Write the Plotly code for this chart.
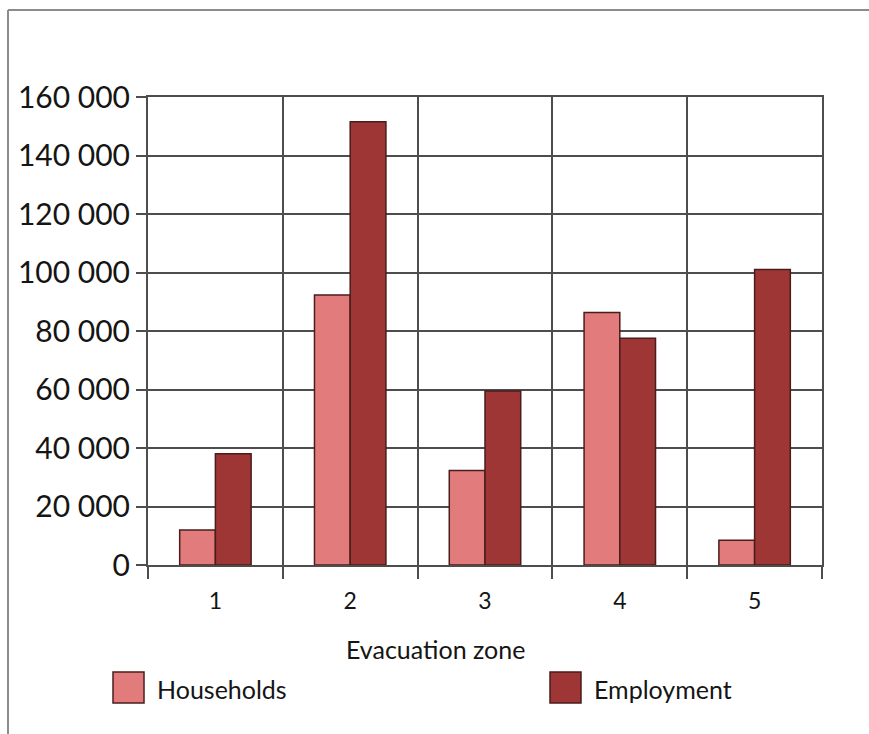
import plotly.graph_objects as go

# Data
zones = ["1", "2", "3", "4", "5"]
households = [12000, 92300, 32300, 86300, 8500]
employment = [38000, 151500, 59500, 77500, 101000]
series_names = ["Households", "Employment"]
y_ticks = [0, 20000, 40000, 60000, 80000, 100000, 120000, 140000, 160000]

# Styling
W, H = 869, 734
ML, MR, MT, MB = 148, 47, 97, 169
FONT = "Lato"
TEXT = "#151515"
GRID = "#4d4d4d"
COL_HH = "#E27C7C"
COL_EMP = "#9E3636"
EDGE = "#4a1c1c"

pw, ph = W - ML - MR, H - MT - MB


def px(x):
    return (x - ML) / pw


def py(y):
    return (H - MB - y) / ph


xpos = list(range(1, len(zones) + 1))

fig = go.Figure()
fig.add_trace(go.Bar(x=xpos, y=households, name=series_names[0],
                     marker=dict(color=COL_HH, line=dict(color=EDGE, width=1.5))))
fig.add_trace(go.Bar(x=xpos, y=employment, name=series_names[1],
                     marker=dict(color=COL_EMP, line=dict(color=EDGE, width=1.5))))

fig.update_layout(
    width=W, height=H,
    margin=dict(l=ML, r=MR, t=MT, b=MB, pad=0),
    paper_bgcolor="white", plot_bgcolor="white",
    barmode="group", bargap=0.47, bargroupgap=0,
    showlegend=False,
    separators=". ",
    font=dict(family=FONT, color=TEXT),
)

fig.update_xaxes(
    range=[0.5, len(zones) + 0.5],
    tickmode="array", tickvals=xpos, ticktext=zones,
    ticks="", showgrid=False,
    tickfont=dict(size=23, family=FONT, color=TEXT),
    ticklabelstandoff=14,
    minor=dict(tick0=0.5, dtick=1, showgrid=True, gridcolor=GRID, gridwidth=2,
               ticks="outside", ticklen=12, tickwidth=2, tickcolor=GRID),
    showline=True, linecolor=GRID, linewidth=2, mirror=True,
    zeroline=False,
)

fig.update_yaxes(
    range=[0, 160000],
    tickmode="array", tickvals=y_ticks,
    tickformat=",d",
    ticks="outside", ticklen=10, tickwidth=2, tickcolor=GRID,
    showgrid=True, gridcolor=GRID, gridwidth=2,
    tickfont=dict(size=30, family=FONT, color=TEXT),
    showline=True, linecolor=GRID, linewidth=2, mirror=True,
    zeroline=False,
)

# Axis title
fig.add_annotation(text="Evacuation zone", xref="paper", yref="paper",
                   x=px(435), y=py(649), xanchor="center", yanchor="middle",
                   showarrow=False,
                   font=dict(size=25, family=FONT, color=TEXT))

# Legend: swatches with labels
legend_items = [(series_names[0], COL_HH, 113), (series_names[1], COL_EMP, 550)]
for name, col, x0 in legend_items:
    fig.add_shape(type="rect", xref="paper", yref="paper",
                  x0=px(x0), x1=px(x0 + 31), y0=py(703), y1=py(672),
                  fillcolor=col, line=dict(color=EDGE, width=1.5))
    fig.add_annotation(text=name, xref="paper", yref="paper",
                       x=px(x0 + 42), y=py(689), xanchor="left", yanchor="middle",
                       showarrow=False,
                       font=dict(size=25, family=FONT, color=TEXT))

# Outer frame (top and left edges)
fig.add_shape(type="line", xref="paper", yref="paper",
              x0=px(8), x1=px(W + 5), y0=py(10), y1=py(10),
              line=dict(color="#8c8c8c", width=2))
fig.add_shape(type="line", xref="paper", yref="paper",
              x0=px(8), x1=px(8), y0=py(10), y1=py(H + 5),
              line=dict(color="#8c8c8c", width=2))

fig.write_html("out.html")
